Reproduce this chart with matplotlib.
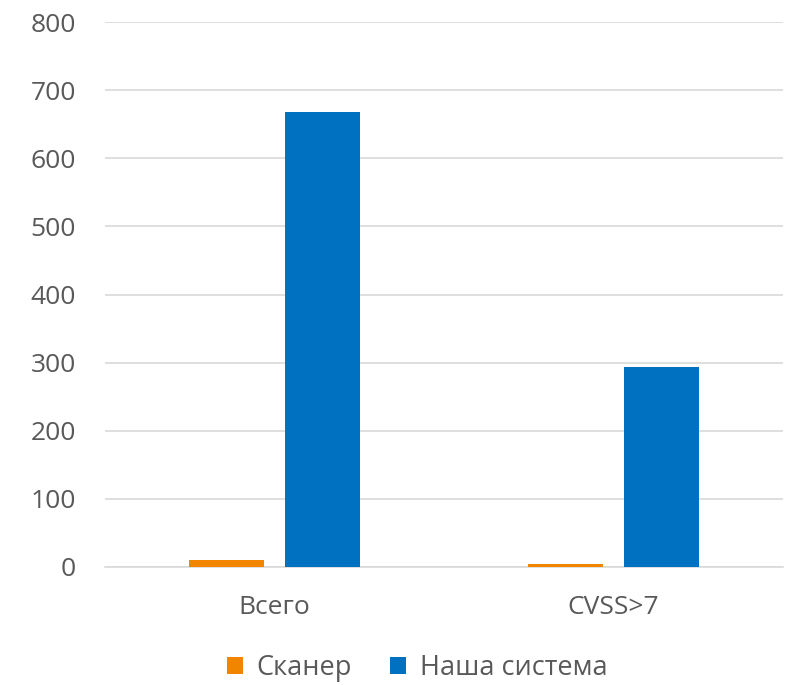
import numpy as np
import matplotlib.pyplot as plt

categories = ["Всего", "CVSS>7"]
series_names = ["Сканер", "Наша система"]
scanner = [10, 4]
our_system = [668, 294]
colors = ["#F28500", "#0070C0"]
yticks = [0, 100, 200, 300, 400, 500, 600, 700, 800]

plt.rcParams["font.family"] = ["Open Sans", "DejaVu Sans"]

fig = plt.figure(figsize=(7.9, 6.85), dpi=100)
ax = fig.add_axes([105 / 790, 1 - 567 / 685, 678 / 790, 545 / 685])

x = np.arange(len(categories))
w = 0.22
off = 0.1416
ax.bar(x - off, scanner, w, color=colors[0], label=series_names[0], zorder=3)
ax.bar(x + off, our_system, w, color=colors[1], label=series_names[1], zorder=3)

ax.set_xlim(-0.5, len(categories) - 0.5)
ax.set_ylim(0, 800)
ax.set_yticks(yticks)
ax.set_xticks(x)
ax.set_xticklabels(categories)
ax.grid(axis="y", color="#D9D9D9", linewidth=1.2, zorder=0)
for s in ["top", "right", "left"]:
    ax.spines[s].set_visible(False)
ax.spines["bottom"].set_color("#D9D9D9")
ax.spines["bottom"].set_linewidth(1.2)
ax.tick_params(axis="both", length=0, labelsize=19, labelcolor="#595959")
ax.tick_params(axis="y", pad=21)
ax.tick_params(axis="x", pad=20)

fig.legend(loc="center", bbox_to_anchor=(417 / 790, 1 - 668 / 685), ncol=2, frameon=False,
           fontsize=19.5, labelcolor="#595959", handlelength=0.6, handleheight=0.6,
           handletextpad=0.5, columnspacing=1.4)

fig.savefig("out.png", dpi=100)
